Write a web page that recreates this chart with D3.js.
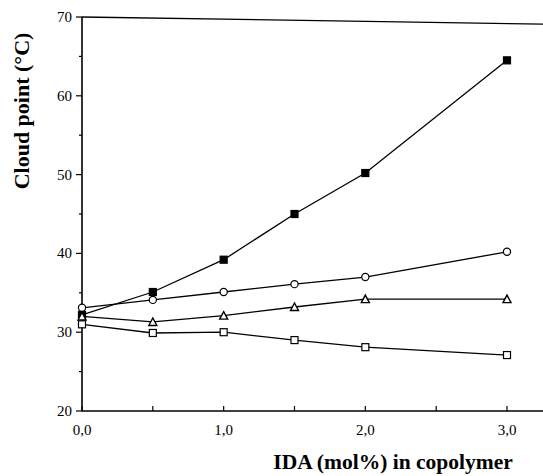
<!DOCTYPE html>
<html><head><meta charset="utf-8">
<script src="https://cdn.jsdelivr.net/npm/d3@7"></script>
<style>body{margin:0;background:#fff}svg{display:block}</style>
</head><body>
<script>
const xValues = [0, 0.5, 1.0, 1.5, 2.0, 3.0];
const filledSquare = [32.2, 35.1, 39.2, 45.0, 50.2, 64.5];
const openCircle   = [33.1, 34.1, 35.1, 36.1, 37.0, 40.2];
const openTriangle = [32.0, 31.3, 32.1, 33.2, 34.2, 34.2];
const openSquare   = [31.0, 29.9, 30.0, 29.0, 28.1, 27.1];
const yTicks = [20, 30, 40, 50, 60, 70];
const yMinor = [25, 35, 45, 55, 65];
const xTicks = [0, 1, 2, 3];
const xMinor = [0.5, 1.5, 2.5];
const xTickLabels = ["0,0", "1,0", "2,0", "3,0"];
const yTitle = "Cloud point (°C)";
const xTitle = "IDA (mol%) in copolymer";

const W = 543, H = 476;
const svg = d3.select("body").append("svg").attr("width", W).attr("height", H);
const x = d3.scaleLinear().domain([0, 3]).range([82, 507]);
const y = d3.scaleLinear().domain([20, 70]).range([411, 17]);
const font = "'Liberation Serif', 'DejaVu Serif', serif";

// axes lines
svg.append("line").attr("x1", x(0)).attr("x2", x(0)).attr("y1", y(70)).attr("y2", y(20))
  .attr("stroke", "#000").attr("stroke-width", 1.6);
svg.append("line").attr("x1", x(0)).attr("x2", W).attr("y1", y(20)).attr("y2", y(20))
  .attr("stroke", "#000").attr("stroke-width", 1.4);
// top frame line (slightly skewed like the scan)
svg.append("line").attr("x1", x(0)).attr("x2", W).attr("y1", y(70)).attr("y2", y(69.1))
  .attr("stroke", "#000").attr("stroke-width", 1.3);

// y ticks
svg.selectAll(".yt").data(yTicks).join("line")
  .attr("x1", x(0) - 6).attr("x2", x(0)).attr("y1", d => y(d)).attr("y2", d => y(d))
  .attr("stroke", "#000").attr("stroke-width", 1.2);
svg.selectAll(".ym").data(yMinor).join("line")
  .attr("x1", x(0) - 3).attr("x2", x(0)).attr("y1", d => y(d)).attr("y2", d => y(d))
  .attr("stroke", "#000").attr("stroke-width", 1.2);
svg.selectAll(".yl").data(yTicks).join("text")
  .attr("x", 72).attr("y", d => y(d) + 5).attr("text-anchor", "end")
  .attr("font-family", font).attr("font-size", 15).text(d => d);

// x ticks
svg.selectAll(".xt").data(xTicks.concat(xMinor)).join("line")
  .attr("x1", d => x(d)).attr("x2", d => x(d)).attr("y1", y(20) - 5).attr("y2", y(20))
  .attr("stroke", "#000").attr("stroke-width", 1.2);
svg.selectAll(".xl").data(xTicks).join("text")
  .attr("x", d => x(d)).attr("y", 435).attr("text-anchor", "middle")
  .attr("font-family", font).attr("font-size", 15).text((d, i) => xTickLabels[i]);

// titles
svg.append("text").attr("transform", `translate(29,111) rotate(-90)`)
  .attr("text-anchor", "middle").attr("font-family", font).attr("font-weight", "bold")
  .attr("font-size", 22).text(yTitle);
svg.append("text").attr("x", 393).attr("y", 469).attr("text-anchor", "middle")
  .attr("font-family", font).attr("font-weight", "bold").attr("font-size", 21.5).text(xTitle);

const series = [
  {vals: filledSquare, shape: "sq", fill: "#000"},
  {vals: openCircle, shape: "ci", fill: "#fff"},
  {vals: openTriangle, shape: "tr", fill: "#fff"},
  {vals: openSquare, shape: "sq", fill: "#fff"}
];
const line = d3.line().x(d => x(d[0])).y(d => y(d[1]));
series.forEach(s => {
  const pts = xValues.map((v, i) => [v, s.vals[i]]);
  svg.append("path").attr("d", line(pts)).attr("fill", "none")
    .attr("stroke", "#000").attr("stroke-width", 1.3);
});
series.forEach(s => {
  const pts = xValues.map((v, i) => [v, s.vals[i]]);
  const g = svg.append("g");
  pts.forEach(p => {
    const cx = x(p[0]), cy = y(p[1]);
    if (s.shape === "sq") {
      g.append("rect").attr("x", cx - 3.5).attr("y", cy - 3.5).attr("width", 7).attr("height", 7)
        .attr("fill", s.fill).attr("stroke", "#000").attr("stroke-width", 1.2);
    } else if (s.shape === "ci") {
      g.append("circle").attr("cx", cx).attr("cy", cy).attr("r", 3.6)
        .attr("fill", s.fill).attr("stroke", "#000").attr("stroke-width", 1.2);
    } else {
      g.append("path").attr("d", `M${cx},${cy-4}L${cx+4},${cy+3.5}L${cx-4},${cy+3.5}Z`)
        .attr("fill", s.fill).attr("stroke", "#000").attr("stroke-width", 1.4);
    }
  });
});
</script>
</body></html>
